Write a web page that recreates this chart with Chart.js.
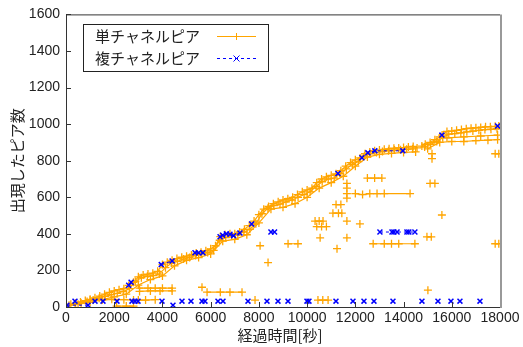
<!DOCTYPE html>
<html lang="ja">
<head>
<meta charset="UTF-8">
<title>出現したピア数</title>
<script src="https://cdn.jsdelivr.net/npm/chart.js"></script>
<style>
  html, body { margin: 0; padding: 0; background: #fff; }
  #wrap { width: 523px; height: 347px; }
</style>
</head>
<body>
<div id="wrap"><canvas id="myChart" width="523" height="347"></canvas></div>
<script>
// x ticks and y ticks
const xTicks = [0, 2000, 4000, 6000, 8000, 10000, 12000, 14000, 16000, 18000];
const yTicks = [0, 200, 400, 600, 800, 1000, 1200, 1400, 1600];

// 単チャネルピア: main band (upper edge) [seconds, peers]
const singleMain = [[0,12],[200,15],[400,20],[600,28],[800,35],[1000,42],[1200,50],[1400,60],[1600,70],[1800,80],
  [2000,88],[2200,95],[2400,100],[2600,118],[2800,135],[3000,165],[3200,175],[3400,180],[3600,185],[3800,195],
  [4000,232],[4200,245],[4400,255],[4600,265],[4800,272],[5000,278],[5200,285],[5400,295],[5600,300],[5800,308],
  [6000,318],[6200,335],[6400,385],[6600,395],[6800,400],[7000,400],[7200,410],[7400,425],[7600,445],[7800,470],
  [8000,505],[8200,535],[8400,550],[8600,565],[8800,575],[9000,585],[9200,592],[9400,600],[9600,615],[9800,630],
  [10000,640],[10200,650],[10400,680],[10600,700],[10800,712],[11000,720],[11200,728],[11400,745],[11600,770],[11800,790],
  [12000,805],[12200,815],[12400,838],[12600,848],[12800,855],[13000,858],[13200,862],[13400,865],[13600,868],[13800,870],
  [14000,872],[14200,875],[14400,878],[14560,870]];
const singleMain2 = [[14760,880],[14900,890],[15100,900],[15300,915],[15500,930],[15600,940],[15800,960],[16000,962],
  [16200,966],[16400,970],[16600,975],[16800,978],[17000,980],[17200,982],[17400,985],[17600,986],[17800,988],[17950,990]];
// middle of the band
const singleMid = [[125,10],[375,15],[625,22],[875,30],[1125,38],[1375,48],[1625,58],[1875,68],[2125,75],[2375,85],
  [2625,100],[2875,140],[3125,160],[3375,168],[3625,172],[3875,180],[4125,215],[4375,240],[4625,250],[4875,262],
  [5125,270],[5375,282],[5625,290],[5875,298],[6125,310],[6375,365],[6625,380],[6875,388],[7125,395],[7375,410],
  [7625,425],[7875,455],[8125,510],[8375,540],[8625,555],[8875,562],[9125,575],[9375,585],[9625,600],[9875,615],
  [10125,630],[10375,660],[10625,685],[10875,700],[11125,705],[11375,730],[11625,755],[11875,780],[12125,795],[12375,825],
  [12625,838],[12875,845],[13125,850],[13375,855],[13625,858],[13875,860],[14125,862],[14375,865]];
const singleMid2 = [[14875,875],[15125,890],[15375,905],[15625,925],[15875,945],[16125,948],[16375,952],[16625,958],
  [16875,962],[17125,966],[17375,970],[17625,972],[17875,975]];
// lower edge of the band
const singleLow = [[0,5],[500,15],[1000,25],[1500,40],[2000,55],[2500,70],[3000,120],[3500,150],[4000,170],[4500,225],
  [5000,255],[5500,270],[6000,290],[6500,360],[7000,370],[7500,395],[8000,460],[8500,535],[9000,545],[9500,565],
  [10000,600],[10500,650],[11000,680],[11500,715],[12000,770],[12500,820],[13000,835],[13500,840],[14000,845],[14500,848]];
const singleLow2 = [[15000,865],[15500,900],[16000,905],[16500,905],[17000,910],[17500,912],[17900,915]];
const singleRow3 = [[15800,925],[16500,930],[17200,935],[17900,940]];
// scattered groups away from the band
const singleOut = [
  [[1000,38],[1500,38],[1900,42],[2400,40],[2800,38]],
  [[2100,5],[2500,5],[2800,5]],
  [[3050,103],[3400,103],[3700,103],[4000,103],[4400,103]],
  [[3050,85],[3500,88],[3900,88],[4400,88]],
  [[3000,38],[3300,38],[3700,40]],
  [[5640,108]],
  [[5850,81],[6400,81],[6800,81],[7300,81]],
  [[7840,38]],
  [[10450,38],[10650,38],[10870,38]],
  [[15010,92]],
  [[8050,335]],
  [[8380,243]],
  [[9210,346],[9620,346]],
  [[10330,470],[10500,470],[10660,470]],
  [[10400,440],[10600,440],[10800,440]],
  [[10540,378]],
  [[11070,513],[11300,513],[11440,513]],
  [[11200,560],[11400,560]],
  [[11240,319]],
  [[11650,595]], [[11650,620]], [[11650,650]], [[11650,676]],
  [[11650,470]],
  [[11650,378]],
  [[12000,620],[12300,615],[12600,620],[12900,620],[13200,620],[14270,620]],
  [[12190,454]],
  [[12500,705],[12800,705],[13100,705]],
  [[12740,346],[13200,346],[13500,346],[13800,346],[14470,346]],
  [[14970,384],[15150,384]],
  [[15100,676],[15300,676]],
  [[15590,503]],
  [[17800,346],[17950,346]],
  [[17800,838],[17950,838]],
  [[15180,811]], [[15180,838]]
];

// 複チャネルピア
const multiCurve = [
  [[40,10],[912,10]],
  [[2600,119],[2700,135]],
  [[3950,232],[4400,252]],
  [[5350,297],[5500,297],[5680,297]],
  [[6390,384],[6500,392],[6650,400],[6800,398],[6950,390],[7215,405]],
  [[7700,454]],
  [[8500,410],[8650,410]],
  [[11280,730]],
  [[12270,816],[12520,843],[12810,854],[13970,854]],
  [[13020,410],[13520,410],[13600,410],[13730,410],[14140,410],[14220,410],[14470,410]],
  [[15590,940]],
  [[17900,990]]
];
const multiBottom = [373,1203,1534,2115,2737,2861,2986,3981,4811,5184,5640,5764,6303,6511,7548,8336,8792,9207,
  9994,10077,11197,11902,12358,12773,13561,14763,15427,15966,16339,17169];
const multiBottomY = 32;
const multiLowX = [4437];
const multiLowY = 10;

const ORANGE = '#FFA500';
const BLUE = '#0000FF';
const CJK = '"Noto Sans CJK JP", "Noto Sans", sans-serif';
const NUM = '"Liberation Sans", Arial, sans-serif';

// join segments with null points so the line breaks between them
function joinSegments(segs) {
  const out = [];
  segs.forEach((seg, i) => {
    if (i > 0) out.push({ x: seg[0][0], y: null });
    seg.forEach(p => out.push({ x: p[0], y: p[1] }));
  });
  return out;
}

const singleData = joinSegments(
  [singleMain, singleMain2, singleMid, singleMid2, singleLow, singleLow2, singleRow3].concat(singleOut)
);
const multiData = joinSegments(
  multiCurve
    .concat(multiBottom.map(x => [[x, multiBottomY]]))
    .concat(multiLowX.map(x => [[x, multiLowY]]))
);

const framePlugin = {
  id: 'frame',
  afterDatasetsDraw(chart) {
    const { ctx, chartArea: a } = chart;
    const xs = chart.scales.x, ys = chart.scales.y;
    ctx.save();
    // inward ticks
    ctx.strokeStyle = '#333';
    ctx.lineWidth = 1;
    ctx.beginPath();
    xTicks.forEach(v => {
      const px = Math.round(xs.getPixelForValue(v)) + 0.5;
      ctx.moveTo(px, a.bottom); ctx.lineTo(px, a.bottom - 5);
    });
    yTicks.forEach(v => {
      const py = Math.round(ys.getPixelForValue(v)) + 0.5;
      ctx.moveTo(a.left, py); ctx.lineTo(a.left + 5, py);
    });
    ctx.stroke();
    // border
    ctx.strokeStyle = '#333';
    ctx.beginPath();
    ctx.moveTo(a.right, a.top + 0.5); ctx.lineTo(a.left + 0.5, a.top + 0.5);
    ctx.lineTo(a.left + 0.5, a.bottom + 0.5); ctx.lineTo(a.right, a.bottom + 0.5);
    ctx.stroke();
    ctx.strokeStyle = '#999';
    ctx.lineWidth = 2;
    ctx.beginPath();
    ctx.moveTo(a.right + 1, a.top); ctx.lineTo(a.right + 1, a.bottom + 1);
    ctx.stroke();

    // axis titles
    ctx.fillStyle = '#222';
    ctx.font = '15px ' + CJK;
    ctx.textAlign = 'center';
    ctx.textBaseline = 'middle';
    ctx.fillText('経過時間[秒]', 280, 335);
    ctx.save();
    ctx.translate(17, (a.top + a.bottom) / 2);
    ctx.rotate(-Math.PI / 2);
    ctx.fillText('出現したピア数', 0, 0);
    ctx.restore();

    // key box
    ctx.fillStyle = '#fff';
    ctx.fillRect(83, 24, 185, 47);
    ctx.strokeStyle = '#222';
    ctx.lineWidth = 1;
    ctx.strokeRect(83.5, 24.5, 185, 47);
    ctx.fillStyle = '#222';
    ctx.font = '15px ' + CJK;
    ctx.textAlign = 'left';
    ctx.fillText('単チャネルピア', 95, 36);
    ctx.fillText('複チャネルピア', 95, 58);
    // samples
    ctx.strokeStyle = ORANGE;
    ctx.beginPath(); ctx.moveTo(217, 36.5); ctx.lineTo(256, 36.5); ctx.stroke();
    ctx.beginPath(); ctx.moveTo(236.5, 33); ctx.lineTo(236.5, 40); ctx.stroke();
    ctx.strokeStyle = BLUE;
    ctx.setLineDash([3, 3]);
    ctx.beginPath(); ctx.moveTo(217, 58.5); ctx.lineTo(256, 58.5); ctx.stroke();
    ctx.setLineDash([]);
    ctx.beginPath();
    ctx.moveTo(233.5, 55.5); ctx.lineTo(239.5, 61.5);
    ctx.moveTo(239.5, 55.5); ctx.lineTo(233.5, 61.5);
    ctx.stroke();
    ctx.restore();
  }
};

const ctx = document.getElementById('myChart').getContext('2d');
new Chart(ctx, {
  type: 'line',
  data: {
    datasets: [
      {
        label: '単チャネルピア',
        data: singleData,
        borderColor: ORANGE,
        backgroundColor: ORANGE,
        borderWidth: 1.2,
        pointStyle: 'cross',
        pointRadius: 4,
        pointBorderWidth: 1.3,
        pointBorderColor: ORANGE,
        tension: 0,
        fill: false,
        order: 2
      },
      {
        label: '複チャネルピア',
        data: multiData,
        borderColor: BLUE,
        backgroundColor: BLUE,
        borderWidth: 1,
        borderDash: [3, 3],
        pointStyle: 'crossRot',
        pointRadius: 3.5,
        pointBorderWidth: 1.5,
        pointBorderColor: BLUE,
        tension: 0,
        fill: false,
        order: 1
      }
    ]
  },
  options: {
    responsive: false,
    animation: false,
    spanGaps: false,
    layout: { padding: { left: 0, top: 11, right: 23, bottom: 0 } },
    plugins: { legend: { display: false }, tooltip: { enabled: false } },
    scales: {
      x: {
        type: 'linear',
        min: 0, max: 18000,
        afterFit: s => { s.height = 40; },
        afterBuildTicks: s => { s.ticks = xTicks.map(v => ({ value: v })); },
        grid: { display: false, drawTicks: false },
        border: { display: false },
        ticks: {
          padding: 3,
          maxRotation: 0,
          color: '#222',
          font: { family: NUM, size: 14 },
          callback: v => String(v)
        }
      },
      y: {
        min: 0, max: 1600,
        afterFit: s => { s.width = 66; },
        afterBuildTicks: s => { s.ticks = yTicks.map(v => ({ value: v })); },
        grid: { display: false, drawTicks: false },
        border: { display: false },
        ticks: {
          padding: 6,
          color: '#222',
          font: { family: NUM, size: 14 },
          callback: v => String(v)
        }
      }
    }
  },
  plugins: [framePlugin]
});
</script>
</body>
</html>
